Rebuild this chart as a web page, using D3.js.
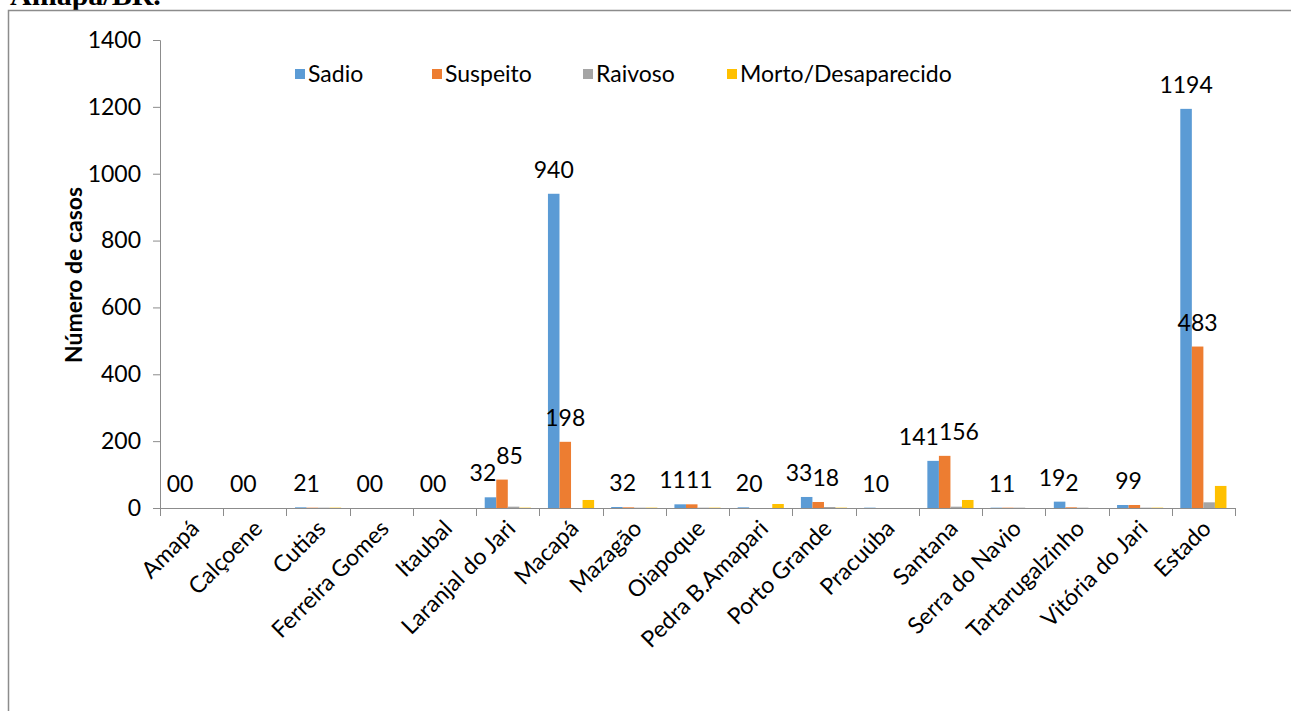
<!DOCTYPE html>
<html>
<head>
<meta charset="utf-8">
<script src="https://cdn.jsdelivr.net/npm/d3@7"></script>
<style>
  body { margin: 0; background: #fff; }
  svg { display: block; font-family: Lato, "Open Sans", sans-serif; }
</style>
</head>
<body>
<div id="chart"></div>
<script>
// municipalities of Amapá + state total
var categories = ['Amapá', 'Calçoene', 'Cutias', 'Ferreira Gomes', 'Itaubal', 'Laranjal do Jari',
    'Macapá', 'Mazagão', 'Oiapoque', 'Pedra B.Amapari', 'Porto Grande', 'Pracuúba', 'Santana',
    'Serra do Navio', 'Tartarugalzinho', 'Vitória do Jari', 'Estado'];

var seriesNames = ['Sadio', 'Suspeito', 'Raivoso', 'Morto/Desaparecido'];

var sadio    = [0, 0, 2, 0, 0, 32, 940, 3, 11, 2, 33, 1, 141, 1, 19, 9, 1194];
var suspeito = [0, 0, 1, 0, 0, 85, 198, 2, 11, 0, 18, 0, 156, 1, 2, 9, 483];
var raivoso  = [0, 0, 1, 0, 0, 4, 0, 1, 1, 0, 3, 0, 4, 1, 1, 1, 17];
var morto    = [0, 0, 1, 0, 0, 1, 24, 1, 1, 12, 1, 0, 24, 0, 0, 1, 66];

var yTicks = [0, 200, 400, 600, 800, 1000, 1200, 1400];

var colors = ['#5B9BD5', '#ED7D31', '#A5A5A5', '#FFC000'];

var width = 1291,
    height = 711;

var svg = d3
    .select('#chart')
    .append('svg')
    .attr('width', width)
    .attr('height', height);

// page frame + cut-off caption above it
svg.append('text')
    .attr('x', 10)
    .attr('y', 5)
    .style('font-family', '"Liberation Serif", "Times New Roman", serif')
    .style('font-weight', 'bold')
    .style('font-size', '30px')
    .text('Amapá/BR.');

svg.append('path')
    .attr('d', 'M8.5,' + height + 'V10.5H' + width)
    .attr('fill', 'none')
    .attr('stroke', '#8c8c8c')
    .attr('stroke-width', 1.5);

var x0 = d3.scaleBand().domain(categories).range([160, 1235]).padding(0);

var pad = x0.bandwidth() * 0.135;
var x1 = d3.scaleBand().domain(seriesNames).range([pad, x0.bandwidth() - pad]).padding(0);

var y = d3.scaleLinear().domain([0, 1400]).range([508, 40]);

var table = categories.map(function (c, i) {
    return { cat: c, values: [sadio[i], suspeito[i], raivoso[i], morto[i]] };
});

// y axis
var yAxis = svg.append('g')
    .attr('transform', 'translate(160,0)')
    .call(d3.axisLeft(y).tickValues(yTicks).tickSize(7).tickPadding(12).tickFormat(d3.format('d')));
yAxis.select('.domain').attr('stroke', '#8c8c8c');
yAxis.selectAll('.tick line').attr('stroke', '#8c8c8c');
yAxis.selectAll('text').style('font-size', '23px').style('font-family', 'Lato').attr('fill', '#000');

// x axis: ticks between categories
var xAxisG = svg.append('g');
xAxisG.append('line')
    .attr('x1', 160).attr('x2', 1235)
    .attr('y1', y(0) + 0.5).attr('y2', y(0) + 0.5)
    .attr('stroke', '#8c8c8c');
xAxisG.selectAll('line.tk')
    .data(categories.concat(['end']))
    .enter()
    .append('line')
    .attr('class', 'tk')
    .attr('x1', function (d, i) { return Math.round(160 + i * x0.step()) + 0.5; })
    .attr('x2', function (d, i) { return Math.round(160 + i * x0.step()) + 0.5; })
    .attr('y1', y(0))
    .attr('y2', y(0) + 8)
    .attr('stroke', '#8c8c8c');

xAxisG.selectAll('text.cat')
    .data(categories)
    .enter()
    .append('text')
    .attr('class', 'cat')
    .attr('text-anchor', 'end')
    .attr('transform', function (d) {
        var cx = x0(d) + x0.bandwidth() / 2 + 9;
        return 'translate(' + cx + ',' + (y(0) + 22) + ') rotate(-45)';
    })
    .style('font-size', '23px')
    .text(function (d) { return d; });

// bars
var groups = svg.append('g')
    .selectAll('g')
    .data(table)
    .enter()
    .append('g')
    .attr('transform', function (d) { return 'translate(' + x0(d.cat) + ',0)'; });

groups.selectAll('rect')
    .data(function (d) { return d.values; })
    .enter()
    .append('rect')
    .attr('x', function (d, i) { return x1(seriesNames[i]); })
    .attr('y', function (d) { return y(d); })
    .attr('width', x1.bandwidth())
    .attr('height', function (d) { return y(0) - y(d); })
    .attr('fill', function (d, i) { return colors[i]; });

// data labels for Sadio and Suspeito
groups.each(function (d) {
    var g = d3.select(this);
    var tA = y(d.values[0]), tB = y(d.values[1]);
    var close = Math.abs(tA - tB) < 26;
    var xa = x1('Sadio'), xb = x1('Suspeito'), bw = x1.bandwidth();
    g.append('text')
        .attr('x', close ? xa + bw : xa + bw / 2)
        .attr('y', tA - 16)
        .attr('text-anchor', close ? 'end' : 'middle')
        .style('font-size', '23px')
        .text(d.values[0]);
    g.append('text')
        .attr('x', close ? xb : xb + bw / 2)
        .attr('y', tB - 16)
        .attr('text-anchor', close ? 'start' : 'middle')
        .style('font-size', '23px')
        .text(d.values[1]);
});

// legend
var legendX = [295, 432, 583, 727];
var legend = svg.append('g')
    .selectAll('g')
    .data(seriesNames)
    .enter()
    .append('g')
    .attr('transform', function (d, i) { return 'translate(' + legendX[i] + ',69)'; });
legend.append('rect')
    .attr('width', 10)
    .attr('height', 10)
    .attr('fill', function (d, i) { return colors[i]; });
legend.append('text')
    .attr('x', 13)
    .attr('y', 13)
    .style('font-size', '23px')
    .text(function (d) { return d; });

// y title
svg.append('text')
    .attr('transform', 'translate(82,275) rotate(-90)')
    .attr('text-anchor', 'middle')
    .style('font-weight', 'bold')
    .style('font-size', '23px')
    .text('Número de casos');
</script>
</body>
</html>
